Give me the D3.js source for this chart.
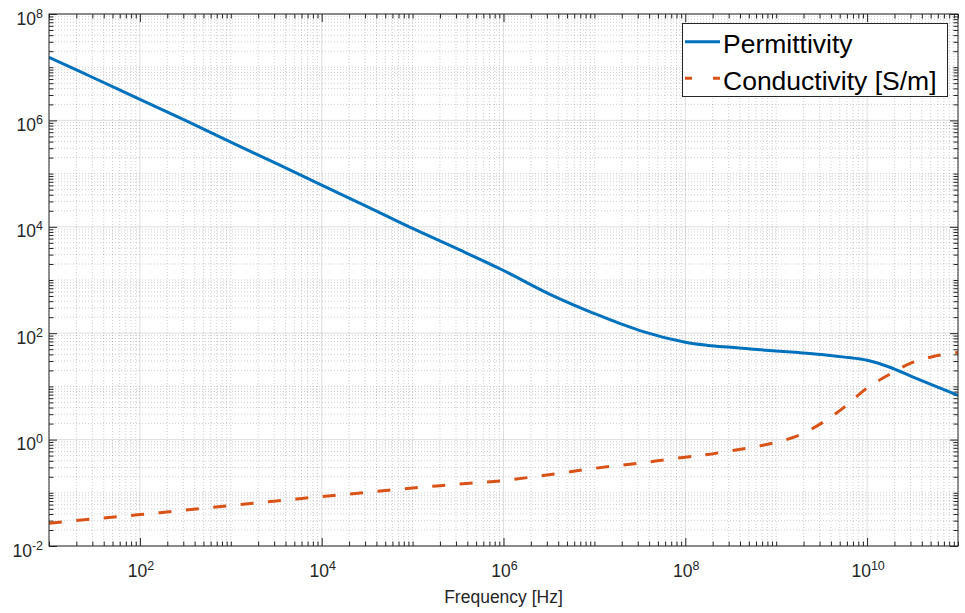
<!DOCTYPE html>
<html>
<head>
<meta charset="utf-8">
<script src="https://cdnjs.cloudflare.com/ajax/libs/d3/7.8.5/d3.min.js"></script>
<style>
  body { margin: 0; background: #fff; }
  svg { display: block; font-family: "Liberation Sans", Arial, sans-serif; }
</style>
</head>
<body>
<div id="viz"></div>
<script>
// frequency points (Hz)
var freq = [10, 31.6, 100, 316, 1e3, 3.16e3, 1e4, 3.16e4, 1e5, 3.16e5, 1e6, 3.16e6,
            1e7, 3.16e7, 1e8, 1.78e8, 3.16e8, 5.62e8, 1e9, 1.78e9, 3.16e9, 5.62e9,
            1e10, 1.78e10, 3.16e10, 5.62e10, 1e11];

var permittivity = [1.53e7, 6.2e6, 2.48e6, 1.0e6, 3.9e5, 1.55e5, 6.07e4, 2.4e4, 9.3e3, 3.8e3, 1.51e3, 550,
                    234, 112, 67.6, 59, 54.3, 50, 46.2, 43.2, 39.8, 35.5,
                    30.9, 22.9, 15.1, 10.1, 6.8];

var conductivity = [0.0269, 0.0324, 0.0389, 0.0473, 0.0575, 0.07, 0.0851, 0.102, 0.123, 0.145, 0.170, 0.219,
                    0.288, 0.363, 0.468, 0.525, 0.617, 0.724, 0.891, 1.20, 2.04, 4.07,
                    9.33, 17.0, 28.2, 37.2, 43.6];

var seriesNames = ['Permittivity', 'Conductivity [S/m]'];
var xTickExp = [2, 4, 6, 8, 10];
var yTickExp = [-2, 0, 2, 4, 6, 8];
var xLabel = 'Frequency [Hz]';

var width = 965, height = 613,
    margin = {top: 14, right: 7, bottom: 67, left: 49},
    plotW = width - margin.left - margin.right,
    plotH = height - margin.top - margin.bottom,
    axisColor = '#262626';

var xScale = d3.scaleLog().domain([1e1, 1e11]).range([0, plotW]);
var yScale = d3.scaleLog().domain([1e-2, 1e8]).range([plotH, 0]);

var svg = d3.select('#viz').append('svg')
    .attr('width', width)
    .attr('height', height);

var g = svg.append('g')
    .attr('transform', 'translate(' + margin.left + ',' + margin.top + ')');

// major = labelled decades, minor = everything else (1..9 x 10^k)
var xMajor = xTickExp.map(function(e) { return Math.pow(10, e); });
var yMajor = yTickExp.map(function(e) { return Math.pow(10, e); });

function minorValues(lo, hi, majors) {
  var out = [];
  for (var k = lo; k < hi; k++) {
    for (var m = 1; m <= 9; m++) {
      var v = m * Math.pow(10, k);
      if (majors.indexOf(v) < 0) out.push(v);
    }
  }
  if (majors.indexOf(Math.pow(10, hi)) < 0) out.push(Math.pow(10, hi));
  return out;
}
var xMinor = minorValues(1, 11, xMajor);
var yMinor = minorValues(-2, 8, yMajor);

// minor grid (dotted)
g.append('g').selectAll('line').data(xMinor).enter().append('line')
  .attr('x1', function(d) { return xScale(d); })
  .attr('x2', function(d) { return xScale(d); })
  .attr('y1', 0).attr('y2', plotH)
  .attr('stroke', axisColor).attr('stroke-opacity', 0.22)
  .attr('stroke-width', 1).attr('stroke-dasharray', '1,2');

g.append('g').selectAll('line').data(yMinor).enter().append('line')
  .attr('y1', function(d) { return yScale(d); })
  .attr('y2', function(d) { return yScale(d); })
  .attr('x1', 0).attr('x2', plotW)
  .attr('stroke', axisColor).attr('stroke-opacity', 0.22)
  .attr('stroke-width', 1).attr('stroke-dasharray', '1,2');

// major grid
g.append('g').selectAll('line').data(xMajor).enter().append('line')
  .attr('x1', function(d) { return xScale(d); })
  .attr('x2', function(d) { return xScale(d); })
  .attr('y1', 0).attr('y2', plotH)
  .attr('stroke', axisColor).attr('stroke-opacity', 0.15);

g.append('g').selectAll('line').data(yMajor).enter().append('line')
  .attr('y1', function(d) { return yScale(d); })
  .attr('y2', function(d) { return yScale(d); })
  .attr('x1', 0).attr('x2', plotW)
  .attr('stroke', axisColor).attr('stroke-opacity', 0.15);

// axes with inward ticks on all four sides
function styleAxis(sel) {
  sel.select('.domain').remove();
  sel.selectAll('line').attr('stroke', axisColor);
  sel.selectAll('text').remove();
}

var majLen = 8, minLen = 4.5;
g.append('g').attr('transform', 'translate(0,' + plotH + ')')
  .call(d3.axisTop(xScale).tickValues(xMajor).tickSize(majLen)).call(styleAxis);
g.append('g').attr('transform', 'translate(0,' + plotH + ')')
  .call(d3.axisTop(xScale).tickValues(xMinor).tickSize(minLen)).call(styleAxis);
g.append('g')
  .call(d3.axisBottom(xScale).tickValues(xMajor).tickSize(majLen)).call(styleAxis);
g.append('g')
  .call(d3.axisBottom(xScale).tickValues(xMinor).tickSize(minLen)).call(styleAxis);
g.append('g')
  .call(d3.axisRight(yScale).tickValues(yMajor).tickSize(majLen)).call(styleAxis);
g.append('g')
  .call(d3.axisRight(yScale).tickValues(yMinor).tickSize(minLen)).call(styleAxis);
g.append('g').attr('transform', 'translate(' + plotW + ',0)')
  .call(d3.axisLeft(yScale).tickValues(yMajor).tickSize(majLen)).call(styleAxis);
g.append('g').attr('transform', 'translate(' + plotW + ',0)')
  .call(d3.axisLeft(yScale).tickValues(yMinor).tickSize(minLen)).call(styleAxis);

// tick labels as 10^n
function powLabel(sel) {
  sel.each(function(e) {
    var t = d3.select(this);
    t.append('tspan').attr('font-size', 17.5).text('10');
    t.append('tspan').attr('font-size', 12.5).attr('dy', -7).text(e < 0 ? '-' + (-e) : e);
  });
}

g.append('g').selectAll('text').data(xTickExp).enter().append('text')
  .attr('x', function(e) { return xScale(Math.pow(10, e)) + 1; })
  .attr('y', plotH + 31)
  .attr('text-anchor', 'middle')
  .attr('fill', axisColor)
  .call(powLabel);

g.append('g').selectAll('text').data(yTickExp).enter().append('text')
  .attr('x', -6)
  .attr('y', function(e) { return yScale(Math.pow(10, e)) + 10.5; })
  .attr('text-anchor', 'end')
  .attr('fill', axisColor)
  .call(powLabel);

g.append('text')
  .attr('x', plotW / 2)
  .attr('y', plotH + 57)
  .attr('text-anchor', 'middle')
  .attr('font-size', 17.5)
  .attr('fill', axisColor)
  .text(xLabel);

// data lines
g.append('clipPath').attr('id', 'clip')
  .append('rect').attr('width', plotW).attr('height', plotH);

var line = function(vals) {
  return d3.line()
    .x(function(d, i) { return xScale(freq[i]); })
    .y(function(d) { return yScale(d); })
    .curve(d3.curveCatmullRom.alpha(0.5))(vals);
};

g.append('path')
  .attr('d', line(permittivity))
  .attr('clip-path', 'url(#clip)')
  .attr('fill', 'none')
  .attr('stroke', '#0072BD')
  .attr('stroke-width', 3);

g.append('path')
  .attr('d', line(conductivity))
  .attr('clip-path', 'url(#clip)')
  .attr('fill', 'none')
  .attr('stroke', '#D95319')
  .attr('stroke-width', 3)
  .attr('stroke-dasharray', '13,14.5');

// box
g.append('rect')
  .attr('width', plotW).attr('height', plotH)
  .attr('fill', 'none')
  .attr('stroke', axisColor)
  .attr('stroke-width', 1);

// legend
var legend = svg.append('g').attr('transform', 'translate(682.5,23.5)');
legend.append('rect')
  .attr('width', 265).attr('height', 73)
  .attr('fill', '#fff')
  .attr('stroke', axisColor)
  .attr('stroke-width', 1);

var legendColors = ['#0072BD', '#D95319'],
    legendDash = [null, '7,21'];

var item = legend.selectAll('.item').data(seriesNames).enter().append('g')
  .attr('transform', function(d, i) { return 'translate(0,' + (18.2 + i * 36.6) + ')'; });

item.append('line')
  .attr('x1', 2.5).attr('x2', 37.5)
  .attr('stroke', function(d, i) { return legendColors[i]; })
  .attr('stroke-width', 3)
  .attr('stroke-dasharray', function(d, i) { return legendDash[i]; });

item.append('text')
  .attr('x', 40.5)
  .attr('y', 11.5)
  .attr('font-size', 26.5)
  .attr('fill', '#000')
  .text(function(d) { return d; });
</script>
</body>
</html>
